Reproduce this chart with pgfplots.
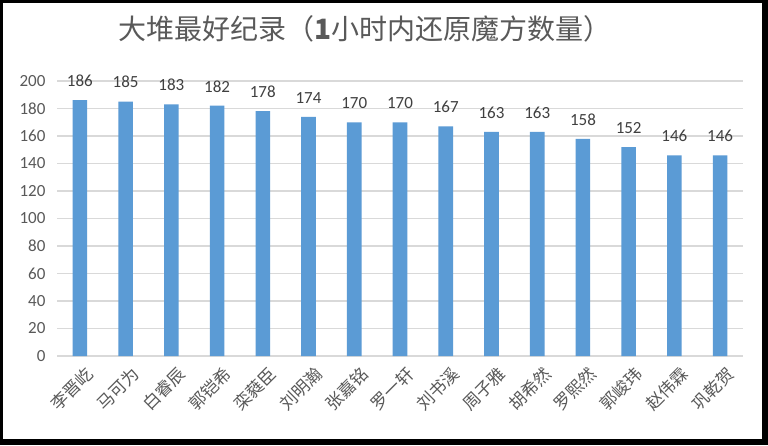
\documentclass[border=0pt]{standalone}
\usepackage{fontspec}
\setmainfont{Carlito}
\newfontfamily\cjk{Noto Sans CJK SC}
\usepackage{pgfplots}
\pgfplotsset{compat=1.18}

\definecolor{barblue}{HTML}{5B9BD5}
\definecolor{gridgray}{HTML}{D9D9D9}
\definecolor{txtgray}{HTML}{595959}
\definecolor{lblgray}{HTML}{404040}

\begin{document}
\begin{tikzpicture}
\useasboundingbox (0,0) rectangle (768pt,445pt);
\fill[black] (0,0) rectangle (768pt,445pt);
\fill[white] (3pt,6pt) rectangle (762pt,442pt);
\node[text=txtgray, font=\cjk\fontsize{28}{30}\selectfont] at (365pt,416pt)
  {大堆最好纪录（\textbf{1}小时内还原魔方数量）};
\begin{axis}[
    at={(57pt,89pt)}, anchor=south west,
    scale only axis,
    width=686pt, height=275pt,
    ybar, bar width=14.6pt,
    xmin=-0.5, xmax=14.5,
    ymin=0, ymax=200,
    ytick={0,20,...,200},
    xtick=data,
    xticklabels={李晋屹,马可为,白睿辰,郭铠希,栾蕤臣,刘明瀚,张嘉铭,罗一轩,刘书溪,周子雅,胡希然,罗熙然,郭峻玮,赵伟霖,巩乾贺},
    axis line style={draw=none},
    tick style={draw=none},
    ymajorgrids,
    grid style={gridgray, line width=1.5pt},
    /pgf/number format/assume math mode=true,
    yticklabel style={text=txtgray, font=\fontsize{17}{18}\selectfont, xshift=-8pt},
    xticklabel style={text=txtgray, font=\cjk\fontsize{17}{19}\selectfont, rotate=45, anchor=east, inner sep=1pt, xshift=1pt, yshift=-15pt},
    nodes near coords,
    every node near coord/.append style={text=lblgray, font=\fontsize{17}{18}\selectfont, yshift=10pt},
    ]
\addplot[fill=barblue, draw=none] coordinates {
(0,186) (1,185) (2,183) (3,182) (4,178) (5,174) (6,170) (7,170)
(8,167) (9,163) (10,163) (11,158) (12,152) (13,146) (14,146)};
\end{axis}
\end{tikzpicture}
\end{document}
